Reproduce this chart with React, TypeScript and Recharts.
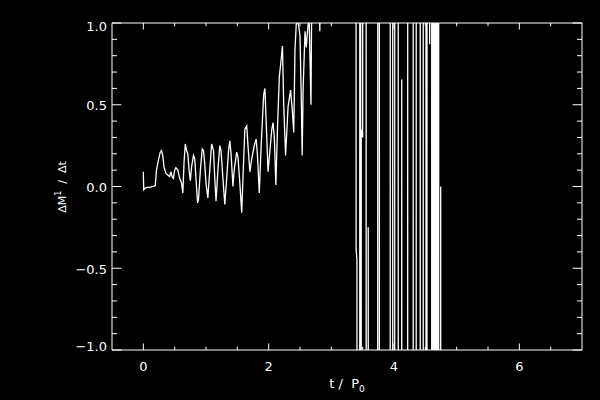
import React from 'react';
import { LineChart, Line, XAxis, YAxis } from 'recharts';

// Smooth-ish oscillating phase (t / P0, dM/dt)
const T_TRACE = [
  0.0, 0.006, 0.03, 0.06, 0.1, 0.15, 0.19, 0.21, 0.24, 0.27, 0.29, 0.31, 0.33, 0.36, 0.39, 0.42,
  0.44, 0.46, 0.48, 0.5, 0.52, 0.55, 0.58, 0.61, 0.63, 0.65, 0.67, 0.69, 0.71, 0.73, 0.75, 0.77,
  0.8, 0.82, 0.84, 0.865, 0.88, 0.91, 0.94, 0.96, 0.98, 1.0, 1.03, 1.06, 1.09, 1.12, 1.14, 1.16,
  1.19, 1.22, 1.24, 1.27, 1.3, 1.33, 1.36, 1.38, 1.4, 1.43, 1.45, 1.49, 1.51, 1.54, 1.57, 1.59,
  1.62, 1.65, 1.67, 1.7, 1.73, 1.77, 1.8, 1.82, 1.85, 1.88, 1.92, 1.94, 1.96, 1.99, 2.02, 2.05,
  2.07, 2.09, 2.115, 2.14, 2.17, 2.2, 2.22, 2.24, 2.27, 2.31, 2.35, 2.38, 2.4, 2.42, 2.44, 2.46,
  2.48, 2.5, 2.52, 2.535, 2.55, 2.58, 2.6, 2.62, 2.645, 2.675, 2.69, 2.8, 2.816, 2.83, 3.38,
];
const V_TRACE = [
  0.09, -0.02, -0.01, -0.005, -0.005, 0.0, 0.005, 0.1, 0.16, 0.21, 0.22, 0.19, 0.12, 0.08, 0.07, 0.06,
  0.09, 0.06, 0.05, 0.1, 0.115, 0.1, 0.05, 0.02, -0.04, 0.15, 0.26, 0.22, 0.2, 0.1, 0.035, 0.12,
  0.19, 0.17, 0.05, -0.1, -0.08, 0.1, 0.23, 0.22, 0.14, 0.02, -0.07, 0.1, 0.26, 0.22, 0.05, -0.09,
  0.1, 0.25, 0.22, 0.05, -0.11, 0.05, 0.22, 0.28, 0.2, 0.0, 0.1, 0.21, 0.18, 0.02, -0.16, 0.05,
  0.35, 0.37, 0.25, 0.09, 0.17, 0.25, 0.29, 0.2, -0.04, 0.25, 0.56, 0.6, 0.4, 0.09, 0.22, 0.35,
  0.39, 0.3, 0.01, 0.35, 0.67, 0.78, 0.86, 0.5, 0.19, 0.49, 0.59, 0.45, 0.33, 0.84, 0.99, 1.02,
  0.98, 0.92, 0.55, 0.19, 0.6, 0.95, 0.85, 0.95, 1.05, 0.5, 1.3, 1.3, 0.95, 1.3, 1.3,
];

// Unstable phase: values swing far beyond the plotted range
const T_BURST = [
  3.394, 3.395, 3.409, 3.41, 3.453, 3.454, 3.468, 3.469, 3.476, 3.477, 3.5, 3.501,
  3.555, 3.556, 3.558, 3.588, 3.589, 3.591, 3.74, 3.741, 3.766, 3.767, 3.939, 3.94,
  3.979, 3.98, 4.011, 4.012, 4.067, 4.068, 4.122, 4.123, 4.125, 4.218, 4.219, 4.306,
  4.307, 4.354, 4.355, 4.418, 4.419, 4.466, 4.467, 4.51, 4.511, 4.526, 4.527, 4.568,
  4.569, 4.571, 4.601, 4.602, 4.62, 4.621, 4.638, 4.639, 4.657, 4.658, 4.676, 4.677,
  4.695, 4.696, 4.713, 4.714, 4.744, 4.745, 4.747, 4.76,
];
const V_BURST = [
  3.0, -0.38, -0.45, -3.0, -3.0, 3.0, 3.0, -3.0, -3.0, 0.35, 0.3, 3.0,
  3.0, -0.48, -3.0, -3.0, -0.25, -3.0, -3.0, 3.0, 3.0, -3.0, -3.0, 3.0,
  3.0, -3.0, -3.0, 3.0, 3.0, -3.0, -3.0, 0.655, -3.0, -3.0, 3.0, 3.0,
  -3.0, -3.0, 3.0, 3.0, -3.0, -3.0, 3.0, 3.0, -3.0, -3.0, 3.0, 3.0,
  0.87, 3.0, 3.0, -3.0, -3.0, 3.0, 3.0, -3.0, -3.0, 3.0, 3.0, -3.0,
  -3.0, 3.0, 3.0, -3.0, -3.0, 0.0, -3.0, -3.0,
];

const X_TICKS = [0, 0.5, 1, 1.5, 2, 2.5, 3, 3.5, 4, 4.5, 5, 5.5, 6, 6.5];
const X_LABELED = [0, 2, 4, 6];
const Y_TICKS = [
  -1.0, -0.9, -0.8, -0.7, -0.6, -0.5, -0.4, -0.3, -0.2, -0.1, 0.0,
  0.1, 0.2, 0.3, 0.4, 0.5, 0.6, 0.7, 0.8, 0.9, 1.0,
];
const Y_LABELED = [-1.0, -0.5, 0.0, 0.5, 1.0];

const data = [
  ...T_TRACE.map((t, i) => ({ t, v: V_TRACE[i] })),
  ...T_BURST.map((t, i) => ({ t, v: V_BURST[i] })),
];

const FONT = "'DejaVu Sans', sans-serif";
const WHITE = '#ffffff';

const fmtY = (v: number) => v.toFixed(1).replace('-', '\u2212');

const BottomTick = (p: any) => {
  const { x, y, payload } = p;
  const v = payload.value;
  const major = X_LABELED.includes(v);
  return (
    <g>
      <line x1={x} x2={x} y1={y} y2={y - (major ? 6.5 : 3.3)} stroke={WHITE} strokeWidth={1} />
      {major ? (
        <text x={x} y={y + 20.5} textAnchor="middle" fill={WHITE} fontSize={13} fontFamily={FONT}>
          {String(v)}
        </text>
      ) : null}
    </g>
  );
};

const TopTick = (p: any) => {
  const { x, y, payload } = p;
  const major = X_LABELED.includes(payload.value);
  return <line x1={x} x2={x} y1={y} y2={y + (major ? 6.5 : 3.3)} stroke={WHITE} strokeWidth={1} />;
};

const LeftTick = (p: any) => {
  const { x, y, payload } = p;
  const v = payload.value;
  const major = Y_LABELED.includes(v);
  const dy = v === 1 ? 8.4 : v === -1 ? 1.2 : 5.5;
  return (
    <g>
      <line x1={x} x2={x + (major ? 9.4 : 5)} y1={y} y2={y} stroke={WHITE} strokeWidth={1} />
      {major ? (
        <text x={x - 5} y={y + dy} textAnchor="end" fill={WHITE} fontSize={13} fontFamily={FONT}>
          {fmtY(v)}
        </text>
      ) : null}
    </g>
  );
};

const RightTick = (p: any) => {
  const { x, y, payload } = p;
  const major = Y_LABELED.includes(payload.value);
  return <line x1={x} x2={x - (major ? 9.4 : 5)} y1={y} y2={y} stroke={WHITE} strokeWidth={1} />;
};

export default function App() {
  return (
    <div style={{ position: 'absolute', left: 0, top: 0, width: 600, height: 400, background: '#000' }}>
      <LineChart width={600} height={400} data={data} margin={{ top: 0, right: 0, bottom: 0, left: 0 }}>
        <XAxis
          xAxisId="bottom"
          type="number"
          dataKey="t"
          domain={[-0.5, 7]}
          allowDataOverflow
          ticks={X_TICKS}
          interval={0}
          height={50}
          axisLine={{ stroke: WHITE, strokeWidth: 1 }}
          tickLine={false}
          tickSize={0}
          tickMargin={0}
          tick={BottomTick}
        />
        <XAxis
          xAxisId="top"
          orientation="top"
          type="number"
          dataKey="t"
          domain={[-0.5, 7]}
          allowDataOverflow
          ticks={X_TICKS}
          interval={0}
          height={23}
          axisLine={{ stroke: WHITE, strokeWidth: 1 }}
          tickLine={false}
          tickSize={0}
          tickMargin={0}
          tick={TopTick}
        />
        <YAxis
          yAxisId="left"
          type="number"
          domain={[-1, 1]}
          allowDataOverflow
          ticks={Y_TICKS}
          interval={0}
          width={112}
          axisLine={{ stroke: WHITE, strokeWidth: 1 }}
          tickLine={false}
          tickSize={0}
          tickMargin={0}
          tick={LeftTick}
        />
        <YAxis
          yAxisId="right"
          orientation="right"
          type="number"
          domain={[-1, 1]}
          allowDataOverflow
          ticks={Y_TICKS}
          interval={0}
          width={18}
          axisLine={{ stroke: WHITE, strokeWidth: 1 }}
          tickLine={false}
          tickSize={0}
          tickMargin={0}
          tick={RightTick}
        />
        <Line
          xAxisId="bottom"
          yAxisId="left"
          type="linear"
          dataKey="v"
          stroke={WHITE}
          strokeWidth={1.3}
          dot={false}
          activeDot={false}
          isAnimationActive={false}
        />
      </LineChart>
      <svg
        width={600}
        height={400}
        style={{ position: 'absolute', left: 0, top: 0, pointerEvents: 'none' }}
      >
        <text x={347} y={387.5} textAnchor="middle" fill={WHITE} fontSize={13} fontFamily={FONT}>
          {'t\u00a0/\u00a0\u00a0P'}
          <tspan dy={4} fontSize={9}>0</tspan>
        </text>
        <text
          x={65.5}
          y={187}
          transform="rotate(-90, 65.5, 187)"
          textAnchor="middle"
          fill={WHITE}
          fontSize={11}
          fontFamily={FONT}
        >
          {'\u0394M'}
          <tspan dy={-5} fontSize={8}>1</tspan>
          <tspan dy={5}>{'\u00a0\u00a0/\u00a0\u00a0\u0394t'}</tspan>
        </text>
      </svg>
    </div>
  );
}
